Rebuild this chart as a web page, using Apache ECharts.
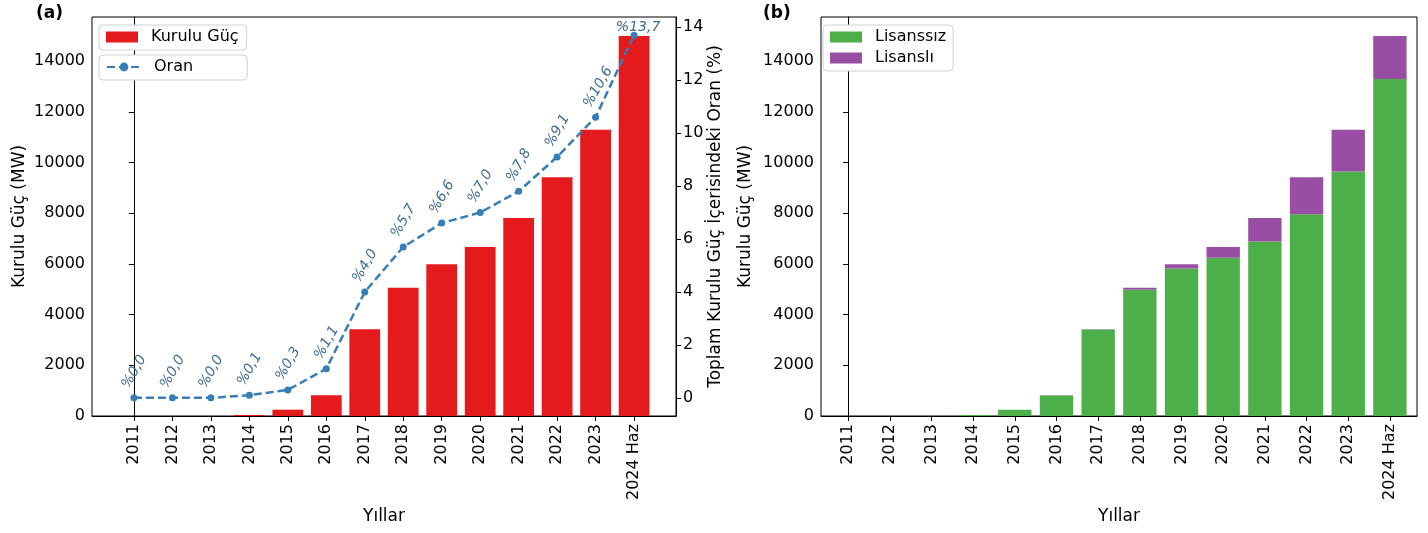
<!DOCTYPE html>
<html>
<head>
<meta charset="utf-8">
<script src="https://cdn.jsdelivr.net/npm/echarts@6/dist/echarts.min.js"></script>
<style>
  html, body { margin: 0; padding: 0; background: #fff; }
  #chart { width: 1428px; height: 533px; }
</style>
</head>
<body>
<div id="chart"></div>
<script>
// Years on the horizontal axis
const categories = ['2011', '2012', '2013', '2014', '2015', '2016', '2017',
  '2018', '2019', '2020', '2021', '2022', '2023', '2024 Haz'];

// (a) installed solar capacity (MW) and its share of total capacity (%)
const kuruluGuc = [0, 0, 0, 40, 249, 820, 3420, 5063, 5995, 6667, 7816, 9425, 11302, 15000];
const oran = [0.0, 0.0, 0.0, 0.1, 0.3, 1.1, 4.0, 5.7, 6.6, 7.0, 7.8, 9.1, 10.6, 13.7];

// (b) unlicensed / licensed split of the installed capacity (MW)
const lisanssiz = [0, 0, 0, 40, 249, 810, 3410, 4980, 5825, 6245, 6890, 7965, 9650, 13300];
const lisansli = [0, 0, 0, 0, 0, 10, 10, 83, 170, 422, 926, 1460, 1652, 1700];

// Tick values
const mwTicks = [0, 2000, 4000, 6000, 8000, 10000, 12000, 14000];
const oranTicks = [0, 2, 4, 6, 8, 10, 12, 14];

const FONT = 'DejaVu Sans';
const W = 1428;
const gridA = { left: 92, right: 752, top: 17, bottom: 117 };
const gridB = { left: 821, right: 11, top: 17, bottom: 117 };
const xRangeA = [-1.09, 14.09];
const xRangeB = [-0.65, 13.65];
const barWidthA = 0.8 * (W - gridA.left - gridA.right) / (xRangeA[1] - xRangeA[0]);
const barWidthB = 0.8 * (W - gridB.left - gridB.right) / (xRangeB[1] - xRangeB[0]);
const catIdx = categories.map((_, i) => i);

const pct = v => '%' + v.toFixed(1).replace('.', ',');

function xAxis(gridIndex, range) {
  return {
    type: 'value', gridIndex, min: range[0], max: range[1],
    name: 'Yıllar', nameLocation: 'middle', nameGap: 89,
    nameTextStyle: { fontFamily: FONT, fontSize: 17, color: '#000' },
    axisLine: { show: true, lineStyle: { color: '#000', width: 1 } },
    axisTick: { show: true, length: 5, customValues: catIdx, lineStyle: { color: '#000' } },
    axisLabel: {
      customValues: catIdx, rotate: 90, margin: 8,
      fontFamily: FONT, fontSize: 16, color: '#000',
      formatter: v => categories[Math.round(v)]
    },
    splitLine: { show: false }
  };
}

function yAxis(gridIndex, opts) {
  return Object.assign({
    type: 'value', gridIndex, nameLocation: 'middle', nameRotate: 90,
    nameTextStyle: { fontFamily: FONT, fontSize: 17, color: '#000' },
    axisLine: { show: true, lineStyle: { color: '#000', width: 1 } },
    splitLine: { show: false }
  }, opts);
}

function ticksAndLabels(values) {
  return {
    axisTick: { show: true, length: 5, customValues: values, lineStyle: { color: '#000' } },
    axisLabel: { customValues: values, fontFamily: FONT, fontSize: 16, color: '#000', margin: 7,
      formatter: v => String(v) }
  };
}

const mwY = (gridIndex, gap) => yAxis(gridIndex, Object.assign({
  min: 0, max: 15750, name: 'Kurulu Güç (MW)', nameGap: gap
}, ticksAndLabels(mwTicks)));

const legendBase = {
  orient: 'vertical', backgroundColor: '#fff', borderColor: '#d0d0d0', borderWidth: 1,
  borderRadius: 4, itemGap: 5, itemWidth: 32, itemHeight: 11,
  textStyle: { fontFamily: FONT, fontSize: 16, color: '#000', padding: [0, 0, 0, 8] }
};

// Stacked bars on a numeric x axis: the value column comes first so it is the stacked one
const stackedBar = (name, values, color) => ({
  name, type: 'bar', stack: 'toplam', xAxisIndex: 1, yAxisIndex: 2,
  barWidth: barWidthB, itemStyle: { color },
  dimensions: ['mw', 'idx'], encode: { x: 'idx', y: 'mw' },
  data: values.map((v, i) => [v, i])
});

const chart = echarts.init(document.getElementById('chart'), null, { renderer: 'canvas' });
chart.setOption({
  animation: false,
  backgroundColor: '#fff',
  title: [
    { text: '(a)', left: 31, top: 0, textStyle: { fontFamily: FONT, fontSize: 17, fontWeight: 'bold', color: '#000' } },
    { text: '(b)', left: 758, top: 0, textStyle: { fontFamily: FONT, fontSize: 17, fontWeight: 'bold', color: '#000' } }
  ],
  legend: [
    Object.assign({}, legendBase, { left: 99, top: 25, padding: [4, 8, 5, 7], icon: 'rect',
      data: ['Kurulu Güç'] }),
    Object.assign({}, legendBase, { left: 99, top: 55, padding: [4, 54, 5, 7], itemWidth: 34,
      data: ['Oran'] }),
    Object.assign({}, legendBase, { left: 823, top: 25, padding: [4, 7, 5, 7], icon: 'rect',
      data: ['Lisanssız', 'Lisanslı'] })
  ],
  grid: [
    Object.assign({ show: true, borderColor: '#000', borderWidth: 1 }, gridA),
    Object.assign({ show: true, borderColor: '#000', borderWidth: 1 }, gridB)
  ],
  xAxis: [xAxis(0, xRangeA), xAxis(1, xRangeB)],
  yAxis: [
    mwY(0, 64),
    yAxis(0, Object.assign({
      position: 'right', min: -0.685, max: 14.385,
      name: 'Toplam Kurulu Güç İçerisindeki Oran (%)', nameGap: 31
    }, ticksAndLabels(oranTicks))),
    mwY(1, 67)
  ],
  series: [
    {
      name: 'Kurulu Güç', type: 'bar', xAxisIndex: 0, yAxisIndex: 0,
      barWidth: barWidthA, itemStyle: { color: '#e41a1c' },
      data: kuruluGuc.map((v, i) => [i, v])
    },
    {
      name: 'Oran', type: 'line', xAxisIndex: 0, yAxisIndex: 1,
      symbol: 'circle', symbolSize: 7,
      lineStyle: { color: '#377eb8', width: 2.5, type: [8, 4] },
      itemStyle: { color: '#377eb8' },
      // rotated labels start just above each point and run upward at 60°
      label: {
        show: true, position: 'top', distance: 8, rotate: 60,
        align: 'left', verticalAlign: 'bottom', offset: [-5, 0],
        fontFamily: FONT, fontSize: 14, fontStyle: 'italic', color: '#3d6b94',
        formatter: p => pct(p.value[1])
      },
      data: oran.map((v, i) => i === oran.length - 1
        ? { value: [i, v], label: { rotate: 0, align: 'center', verticalAlign: 'bottom', distance: 0, offset: [4, 3] } }
        : [i, v]),
      z: 5
    },
    stackedBar('Lisanssız', lisanssiz, '#4daf4a'),
    stackedBar('Lisanslı', lisansli, '#984ea3')
  ]
});
</script>
</body>
</html>
